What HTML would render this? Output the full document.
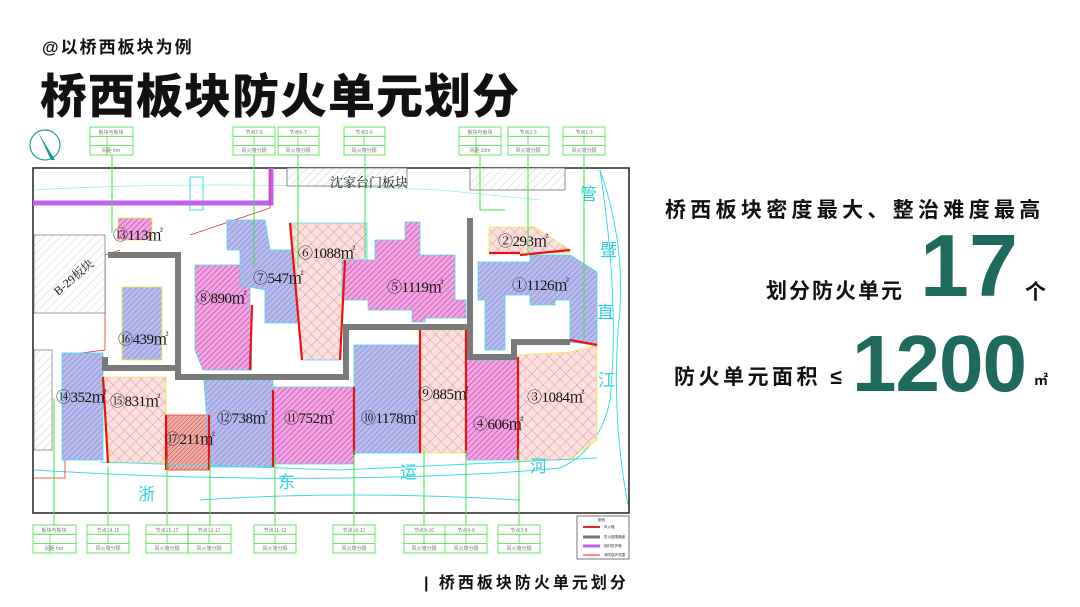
<!DOCTYPE html>
<html><head><meta charset="utf-8"><style>
html,body{margin:0;padding:0;background:#fff;}
body{width:1080px;height:607px;overflow:hidden;position:relative;font-family:"Liberation Sans","Noto Sans CJK SC",sans-serif;}
.t{position:absolute;white-space:nowrap;font-weight:bold;color:#111;}
.g{color:#1e6b5e;font-family:"Liberation Sans",sans-serif;}
</style></head><body>
<div class="t" style="left:42px;top:33px;font-size:17px;letter-spacing:2px;">@以桥西板块为例</div>
<div class="t" style="left:40px;top:58px;font-size:47px;letter-spacing:1px;font-weight:900;">桥西板块防火单元划分</div>
<div class="t" style="left:665px;top:194px;font-size:21px;letter-spacing:4.3px;">桥西板块密度最大、整治难度最高</div>
<div class="t" style="left:766px;top:275px;font-size:21px;letter-spacing:2px;">划分防火单元</div>
<div class="t g" style="left:920px;top:222px;font-size:88px;line-height:88px;">17</div>
<div class="t" style="left:1025px;top:276px;font-size:21px;">个</div>
<div class="t" style="left:674px;top:361px;font-size:21px;letter-spacing:3.5px;">防火单元面积 ≤</div>
<div class="t g" style="left:852px;top:324px;font-size:80px;line-height:80px;letter-spacing:-1px;">1200</div>
<div class="t" style="left:1034px;top:370px;font-size:14px;">㎡</div>
<div class="t" style="left:424px;top:569px;font-size:16px;letter-spacing:3px;">| 桥西板块防火单元划分</div>

<svg width="1080" height="607" style="position:absolute;left:0;top:0" xmlns="http://www.w3.org/2000/svg">
<defs>
<pattern id="pk" width="4" height="4" patternUnits="userSpaceOnUse" patternTransform="rotate(45)"><rect width="4" height="4" fill="#f0a8e0"/><line x1="0" y1="0" x2="0" y2="4" stroke="#d040b8" stroke-width="1.4"/></pattern>
<pattern id="bl" width="4" height="4" patternUnits="userSpaceOnUse" patternTransform="rotate(45)"><rect width="4" height="4" fill="#b8bcec"/><line x1="0" y1="0" x2="0" y2="4" stroke="#7878d0" stroke-width="1"/></pattern>
<pattern id="rc" width="8" height="8" patternUnits="userSpaceOnUse" patternTransform="rotate(45)"><rect width="8" height="8" fill="#fbe0e0"/><path d="M0 0H8M0 0V8" stroke="#e08080" stroke-width="0.8"/></pattern>
<pattern id="dr" width="3" height="3" patternUnits="userSpaceOnUse" patternTransform="rotate(45)"><rect width="3" height="3" fill="#f0b0a8"/><line x1="0" y1="0" x2="0" y2="3" stroke="#c84040" stroke-width="1"/></pattern>
<pattern id="gh" width="6" height="6" patternUnits="userSpaceOnUse" patternTransform="rotate(45)"><rect width="6" height="6" fill="#fff"/><line x1="0" y1="0" x2="0" y2="6" stroke="#bbb" stroke-width="0.7"/></pattern>
</defs>
<circle cx="45" cy="145" r="15" fill="none" stroke="#20a0a0" stroke-width="1.2"/>
<polygon points="38,132 55,160 51,160" fill="#10a090"/>
<rect x="33" y="168" width="596" height="345" fill="#fff" stroke="#222" stroke-width="1.5"/>
<path d="M34 470 Q200 480 340 478 Q480 476 560 468 Q600 450 610 400 Q620 300 600 170" fill="none" stroke="#40d8e8" stroke-width="1"/>
<path d="M200 500 Q350 490 520 500" fill="none" stroke="#40d8e8" stroke-width="1"/>
<path d="M600 170 Q628 250 618 330 Q612 420 628 505" fill="none" stroke="#40d8e8" stroke-width="1"/>
<path d="M34 190 Q200 180 440 190 L540 200" fill="none" stroke="#9ee" stroke-width="0.8"/>
<rect x="287" y="168" width="120" height="18" fill="url(#gh)" stroke="#444" stroke-width="0.6"/>
<rect x="470" y="168" width="95" height="22" fill="url(#gh)" stroke="#444" stroke-width="0.6"/>
<rect x="190" y="177" width="13" height="33" fill="none" stroke="#40d8e8" stroke-width="1"/>
<path d="M33 203 H271 V168" fill="none" stroke="#c060f0" stroke-width="5"/>
<path d="M270 168 V208 L190 235 M120 250 L105 255 V350 L65 355 V478 L33 478" fill="none" stroke="#f03030" stroke-width="0.8"/>
<rect x="34" y="235" width="71" height="78" fill="url(#gh)" stroke="#555" stroke-width="0.6"/>
<rect x="34" y="350" width="18" height="100" fill="url(#gh)" stroke="#555" stroke-width="0.6"/>
<text x="50" y="290" font-size="12" font-family="Liberation Serif,Noto Serif CJK SC,serif" fill="#222" transform="rotate(-40 62 282)">B-29板块</text>
<rect x="118" y="218" width="34" height="22" fill="url(#pk)" stroke="#ee4" stroke-width="0.8"/>
<rect x="122" y="287" width="40" height="73" fill="url(#bl)" stroke="#ee4" stroke-width="0.8"/>
<path d="M195 265 H250 V305 L252 370 H203 L195 350Z" fill="url(#pk)" stroke="#4de" stroke-width="0.8"/>
<path d="M227 220 H265 L270 250 H296 L298 323 H265 V290 L240 285 V250 H227Z" fill="url(#bl)" stroke="#4de" stroke-width="0.8"/>
<path d="M290 223 H367 V260 H345 L340 360 H302Z" fill="url(#rc)" stroke="#4de" stroke-width="0.8"/>
<path d="M342 260 H375 V240 L405 240 V222 L420 222 V255 L455 255 V300 L466 300 V318 H425 V322 H412 V310 H368 V300 H342Z" fill="url(#pk)" stroke="#4de" stroke-width="0.8"/>
<path d="M489 227 H535 L570 250 L570 253 H489Z" fill="url(#rc)" stroke="#ee4" stroke-width="0.8"/>
<path d="M478 262 H530 V255 L570 255 L597 272 V345 L570 342 V300 H555 V305 L530 305 V295 H505 V350 H485 V300 H478Z" fill="url(#bl)" stroke="#4de" stroke-width="0.8"/>
<rect x="62" y="353" width="41" height="107" fill="url(#bl)" stroke="#4de" stroke-width="0.8"/>
<path d="M103 377 H166 V415 L166 463 H110Z" fill="url(#rc)" stroke="#ee4" stroke-width="0.8"/>
<path d="M166 415 H210 V470 H168Z" fill="url(#dr)" stroke="#e33" stroke-width="0.8"/>
<path d="M204 380 H273 V467 H210Z" fill="url(#bl)" stroke="#4de" stroke-width="0.8"/>
<path d="M273 387 H354 V464 H273Z" fill="url(#pk)" stroke="#4de" stroke-width="0.8"/>
<path d="M354 345 H424 V453 H354Z" fill="url(#bl)" stroke="#4de" stroke-width="0.8"/>
<path d="M420 330 H466 V453 H420Z" fill="url(#rc)" stroke="#ee4" stroke-width="0.8"/>
<path d="M466 360 H518 V460 H466Z" fill="url(#pk)" stroke="#4de" stroke-width="0.8"/>
<path d="M518 355 L570 352 L597 345 V440 L570 460 H518Z" fill="url(#rc)" stroke="#ee4" stroke-width="0.8"/>
<path d="M100 462 L340 470 L597 458" fill="none" stroke="#4de" stroke-width="1"/>
<g stroke="#ee1111" stroke-width="2.2" fill="none">
<path d="M290 223 L302 360"/><path d="M345 260 L340 360"/><path d="M252 305 L250 370"/>
<path d="M489 253 H520 M520 255 L570 250"/><path d="M570 340 L597 345"/>
<path d="M103 377 L108 463"/><path d="M166 415 V470"/><path d="M209 415 V470"/>
<path d="M273 390 V467"/><path d="M354 387 V455"/><path d="M420 330 V453"/><path d="M466 330 V453"/><path d="M518 357 V460"/>
</g>
<g stroke="#7a7a7a" stroke-width="6" fill="none">
<path d="M108 255 H178 V377 H346 V327 H470 V218"/>
<path d="M470 327 V357 H514 V342 H570"/>
<path d="M105 357 V368 H178"/>
</g>
<g font-family="Liberation Serif,Noto Serif CJK SC,serif" font-size="15" fill="#111" letter-spacing="-0.5">
<text x="113" y="240">⑬113㎡</text><text x="498" y="246">②293㎡</text><text x="298" y="258">⑥1088㎡</text>
<text x="253" y="283">⑦547㎡</text><text x="512" y="290">①1126㎡</text><text x="387" y="292">⑤1119㎡</text>
<text x="196" y="303">⑧890㎡</text><text x="118" y="344">⑯439㎡</text><text x="56" y="402">⑭352㎡</text>
<text x="110" y="406">⑮831㎡</text><text x="527" y="402">③1084㎡</text><text x="418" y="399">⑨885㎡</text>
<text x="217" y="423">⑫738㎡</text><text x="284" y="423">⑪752㎡</text><text x="361" y="423">⑩1178㎡</text>
<text x="473" y="429">④606㎡</text><text x="165" y="444">⑰211㎡</text>
</g>
<text x="330" y="187" font-size="13" font-family="Liberation Serif,Noto Serif CJK SC,serif" fill="#222">沈家台门板块</text>
<g font-size="17" fill="#30d0e0" font-family="Noto Sans CJK SC,sans-serif">
<text x="138" y="500">浙</text><text x="278" y="488">东</text><text x="400" y="478">运</text><text x="530" y="472">河</text>
<text x="580" y="200">管</text><text x="600" y="256">暨</text><text x="597" y="318">直</text><text x="598" y="386">江</text>
</g>
<g stroke="#44e044" stroke-width="1" fill="none">
<path d="M112 155 V233"/><path d="M254 155 V267"/><path d="M298 155 V268"/><path d="M365 155 V258"/>
<path d="M480 155 V210 H505"/><path d="M528 155 V255"/><path d="M584 155 V340"/>
<path d="M54 525 V398"/><path d="M108 525 V466"/><path d="M167 525 V458"/><path d="M210 525 V458"/>
<path d="M275 525 V455"/><path d="M354 525 V450"/><path d="M424 525 V450"/><path d="M466 525 V450"/><path d="M519 525 V450"/>
</g>
<g fill="#fff" stroke="#44e044" stroke-width="0.8">
<g transform="translate(90,127)"><rect width="43" height="28"/><path d="M0 9.3H43M0 18.6H43M17 9.3V28"/></g>
<g transform="translate(233,127)"><rect width="42" height="28"/><path d="M0 9.3H42M0 18.6H42M21 9.3V18.6"/></g>
<g transform="translate(278,127)"><rect width="41" height="28"/><path d="M0 9.3H41M0 18.6H41M20 9.3V18.6"/></g>
<g transform="translate(344,127)"><rect width="41" height="28"/><path d="M0 9.3H41M0 18.6H41M20 9.3V18.6"/></g>
<g transform="translate(459,127)"><rect width="42" height="28"/><path d="M0 9.3H42M0 18.6H42M17 9.3V28"/></g>
<g transform="translate(508,127)"><rect width="41" height="28"/><path d="M0 9.3H41M0 18.6H41M20 9.3V18.6"/></g>
<g transform="translate(563,127)"><rect width="42" height="28"/><path d="M0 9.3H42M0 18.6H42M21 9.3V18.6"/></g>
<g transform="translate(33,525)"><rect width="43" height="28"/><path d="M0 9.3H43M0 18.6H43M17 9.3V28"/></g>
<g transform="translate(87,525)"><rect width="42" height="28"/><path d="M0 9.3H42M0 18.6H42M21 9.3V18.6"/></g>
<g transform="translate(146,525)"><rect width="42" height="28"/><path d="M0 9.3H42M0 18.6H42M21 9.3V18.6"/></g>
<g transform="translate(188,525)"><rect width="43" height="28"/><path d="M0 9.3H43M0 18.6H43M21 9.3V18.6"/></g>
<g transform="translate(254,525)"><rect width="42" height="28"/><path d="M0 9.3H42M0 18.6H42M21 9.3V18.6"/></g>
<g transform="translate(333,525)"><rect width="42" height="28"/><path d="M0 9.3H42M0 18.6H42M21 9.3V18.6"/></g>
<g transform="translate(404,525)"><rect width="83" height="28"/><path d="M0 9.3H83M0 18.6H83M41 0V28M20 9.3V18.6M62 9.3V18.6"/></g>
<g transform="translate(498,525)"><rect width="42" height="28"/><path d="M0 9.3H42M0 18.6H42M21 9.3V18.6"/></g>
</g>
<g font-size="5" fill="#777" font-family="Noto Sans CJK SC,sans-serif" text-anchor="middle">
<text x="111" y="134">板块与板块</text><text x="254" y="134">节点7-8</text><text x="298" y="134">节点6-7</text><text x="364" y="134">节点5-6</text><text x="480" y="134">板块与板块</text><text x="528" y="134">节点2-3</text><text x="584" y="134">节点1-3</text>
<text x="111" y="152">间距 6m</text><text x="254" y="152">风火墙分隔</text><text x="298" y="152">风火墙分隔</text><text x="364" y="152">风火墙分隔</text><text x="480" y="152">间距 10m</text><text x="528" y="152">风火墙分隔</text><text x="584" y="152">风火墙分隔</text>
<text x="54" y="532">板块与板块</text><text x="108" y="532">节点14-15</text><text x="167" y="532">节点15-17</text><text x="209" y="532">节点12-17</text><text x="275" y="532">节点11-12</text><text x="354" y="532">节点10-11</text><text x="424" y="532">节点9-10</text><text x="466" y="532">节点4-9</text><text x="519" y="532">节点3-4</text>
<text x="54" y="550">间距 6m</text><text x="108" y="550">风火墙分隔</text><text x="167" y="550">风火墙分隔</text><text x="209" y="550">风火墙分隔</text><text x="275" y="550">风火墙分隔</text><text x="354" y="550">风火墙分隔</text><text x="424" y="550">风火墙分隔</text><text x="466" y="550">风火墙分隔</text><text x="519" y="550">风火墙分隔</text>
</g>
<rect x="577" y="516" width="52" height="43" fill="#fff" stroke="#555" stroke-width="0.8"/>
<g stroke-width="2"><line x1="583" y1="527" x2="600" y2="527" stroke="#e22"/><line x1="583" y1="537" x2="600" y2="537" stroke="#777" stroke-width="3"/><line x1="583" y1="546" x2="600" y2="546" stroke="#c060f0" stroke-width="3"/><line x1="583" y1="555" x2="600" y2="555" stroke="#f88"/></g>
<g font-size="3.5" fill="#333" font-family="Noto Sans CJK SC,sans-serif"><text x="598" y="521">图例</text><text x="604" y="528">风火墙</text><text x="604" y="538">防火阻隔通道</text><text x="604" y="547">临时防护墙</text><text x="604" y="556">消防保护范围</text></g>
</svg>
</body></html>
